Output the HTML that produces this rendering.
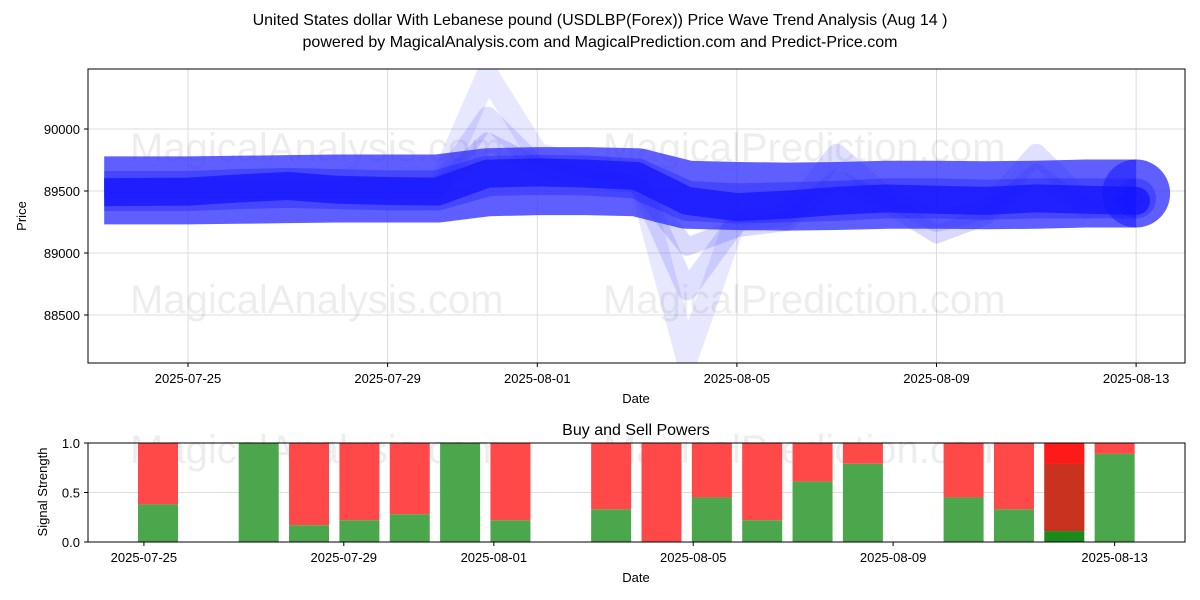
<!DOCTYPE html>
<html><head><meta charset="utf-8">
<style>
html,body{margin:0;padding:0;background:#fff;}
svg{display:block;font-family:"Liberation Sans","DejaVu Sans",sans-serif;}
</style></head>
<body>
<svg id="chart" width="1200" height="600" viewBox="0 0 1200 600" xmlns="http://www.w3.org/2000/svg">
<rect width="1200" height="600" fill="#fff"/>
<text x="600" y="25" text-anchor="middle" font-size="16">United States dollar With Lebanese pound (USDLBP(Forex)) Price Wave Trend Analysis (Aug 14 )</text>
<text x="600" y="47" text-anchor="middle" font-size="16">powered by MagicalAnalysis.com and MagicalPrediction.com and Predict-Price.com</text>
<g id="topPanel"></g>
<g id="botPanel"></g>
</svg>
<script>
// ---- price panel data (days offset from 2025-07-25) ----
const priceDates = [-1.68,0,1,2,3,4,5,6,7,8,9,10,11,12,13,14,15,16,17,18,19];
const bandOuter  = [89505,89505,89510,89515,89520,89520,89520,89570,89580,89580,89570,89470,89460,89455,89460,89470,89470,89465,89470,89480,89480];
const bandMid    = [89500,89500,89515,89525,89515,89505,89505,89620,89630,89625,89600,89420,89400,89410,89420,89440,89440,89430,89440,89440,89440];
const innerLine  = [89490,89495,89520,89540,89510,89500,89495,89640,89650,89640,89620,89420,89370,89390,89420,89440,89430,89420,89440,89430,89420];
const spikeBig   = [89520,89520,89520,89520,89520,89520,89520,90440,89800,89700,89650,88150,89300,89350,89500,89450,89420,89400,89450,89450,89450];
const spikeMed   = [89520,89520,89520,89520,89520,89520,89520,90100,89700,89650,89600,88700,89250,89300,89800,89450,89250,89350,89800,89400,89450];
const spikeSmall = [89520,89520,89520,89520,89520,89520,89520,89900,89700,89600,89550,89050,89200,89250,89600,89400,89150,89300,89650,89350,89420];
const priceTicks = [88500,89000,89500,90000];
const dateTickDays = [0,4,7,11,15,19];
const dateTickLabels = ["2025-07-25","2025-07-29","2025-08-01","2025-08-05","2025-08-09","2025-08-13"];
// ---- signal panel data (days offset from 2025-07-25) ----
const sigDays = [0,2,3,4,5,6,7,9,10,11,12,13,14,16,17,18,19];
const buyPower = [0.38,1.0,0.17,0.22,0.28,1.0,0.22,0.33,0,0.45,0.22,0.61,0.79,0.45,0.33,0.11,0.89];
const midPower = [0,0,0,0,0,0,0,0,0,0,0,0,0,0,0,0.79,0];
const sigTickDays = [-0.28,3.69,6.67,10.63,14.6,19];
const sigTickLabels = ["2025-07-25","2025-07-29","2025-08-01","2025-08-05","2025-08-09","2025-08-13"];
const sigYTicks = [0,0.5,1.0];

const NS="http://www.w3.org/2000/svg";
function mk(tag,attrs,parent,txt){const e=document.createElementNS(NS,tag);for(const k in attrs)e.setAttribute(k,attrs[k]);if(txt!==undefined)e.textContent=txt;parent.appendChild(e);return e;}

const T={x0:88,x1:1185,y0:69,y1:363};
const xT=d=>188+d*49.9;
const yT=v=>191-(v-89500)*62/500;
const topG=document.getElementById('topPanel');
const botG=document.getElementById('botPanel');

function wm(parent,x,y,t){const e=mk('text',{x:x,y:y,'font-size':'40',fill:'#000','fill-opacity':'0.07'},parent,t);

}

priceTicks.forEach(v=>{const l=mk('line',{x1:T.x0,x2:T.x1,y1:yT(v),y2:yT(v),stroke:'#ddd','stroke-width':1},topG);

});
dateTickDays.forEach(d=>{const l=mk('line',{x1:xT(d),x2:xT(d),y1:T.y0,y2:T.y1,stroke:'#ddd','stroke-width':1},topG);

});
wm(topG,130,161,'MagicalAnalysis.com');wm(topG,603,161,'MagicalPrediction.com');
wm(topG,130,313,'MagicalAnalysis.com');wm(topG,603,313,'MagicalPrediction.com');

const clip=mk('clipPath',{id:'clipTop'},topG);mk('rect',{x:T.x0,y:T.y0,width:T.x1-T.x0,height:T.y1-T.y0},clip);
const plot=mk('g',{'clip-path':'url(#clipTop)'},topG);
function series(vals,w,color,op,name){
  let pts=[];for(let i=0;i<vals.length;i++)pts.push(xT(priceDates[i]).toFixed(1)+','+yT(vals[i]).toFixed(1));
  const p=mk('polyline',{points:pts.join(' '),fill:'none',stroke:color,'stroke-width':w,'stroke-opacity':op,'stroke-linejoin':'round','stroke-linecap':'butt'},plot);
  
  
  const n=vals.length-1;
  const c=mk('circle',{cx:xT(priceDates[n]),cy:yT(vals[n]),r:w/2,fill:color,'fill-opacity':op},plot);
  
  
}
series(spikeBig,22,'#6060ff',0.15,'wave-spike-large');
series(spikeMed,20,'#5050ff',0.18,'wave-spike-medium');
series(spikeSmall,18,'#4040ff',0.2,'wave-spike-small');
series(bandOuter,68,'#2a2aff',0.75,'wave-band-outer');
series(bandMid,40,'#1a1aff',0.35,'wave-band-middle');
series(innerLine,28,'#1515ff',0.75,'wave-inner-line');

mk('rect',{x:T.x0,y:T.y0,width:T.x1-T.x0,height:T.y1-T.y0,fill:'none',stroke:'#000','stroke-width':1},topG);
priceTicks.forEach(v=>{mk('line',{x1:T.x0-4,x2:T.x0,y1:yT(v),y2:yT(v),stroke:'#000'},topG);
const t=mk('text',{x:T.x0-8,y:yT(v)+5,'text-anchor':'end','font-size':'13'},topG,String(v));

});
dateTickDays.forEach((d,i)=>{mk('line',{x1:xT(d),x2:xT(d),y1:T.y1,y2:T.y1+4,stroke:'#000'},topG);
const t=mk('text',{x:xT(d),y:T.y1+20,'text-anchor':'middle','font-size':'13'},topG,dateTickLabels[i]);

});
const xl=mk('text',{x:636,y:403,'text-anchor':'middle','font-size':'13'},topG,'Date');


const yl=mk('text',{x:26,y:216,'text-anchor':'middle','font-size':'13',transform:'rotate(-90 26 216)'},topG,'Price');



const B={x0:88,x1:1185,y0:443,y1:542};
const xB=d=>158+d*50.35;
const yB=v=>542-v*99;
const bw=40;
const g=mk('line',{x1:B.x0,x2:B.x1,y1:yB(0.5),y2:yB(0.5),stroke:'#ddd'},botG);


wm(botG,130,463,'MagicalAnalysis.com');wm(botG,603,463,'MagicalPrediction.com');
sigDays.forEach((s,i)=>{
  const x=xB(s)-bw/2;const b=buyPower[i];
  const r=mk('rect',{x:x,y:yB(1),width:bw,height:yB(b)-yB(1),fill:'#ff4848'},botG);
  
  
  if(midPower[i]>0){
    const r3=mk('rect',{x:x,y:yB(1),width:bw,height:yB(midPower[i])-yB(1),fill:'#ff1a1a'},botG);
    
    
    const r4=mk('rect',{x:x,y:yB(midPower[i]),width:bw,height:yB(b)-yB(midPower[i]),fill:'#c8321e'},botG);
    
    
  }
  const r2=mk('rect',{x:x,y:yB(b),width:bw,height:yB(0)-yB(b),fill:midPower[i]>0?'#1a8a1a':'#4ca64c'},botG);
  
  
});
mk('rect',{x:B.x0,y:B.y0,width:B.x1-B.x0,height:B.y1-B.y0,fill:'none',stroke:'#000'},botG);
sigYTicks.forEach(v=>{mk('line',{x1:B.x0-4,x2:B.x0,y1:yB(v),y2:yB(v),stroke:'#000'},botG);
const t=mk('text',{x:B.x0-8,y:yB(v)+5,'text-anchor':'end','font-size':'13'},botG,v.toFixed(1));

});
sigTickDays.forEach((s,i)=>{mk('line',{x1:xB(s),x2:xB(s),y1:B.y1,y2:B.y1+4,stroke:'#000'},botG);
const t=mk('text',{x:xB(s),y:B.y1+20,'text-anchor':'middle','font-size':'13'},botG,sigTickLabels[i]);

});
const bt=mk('text',{x:636,y:435,'text-anchor':'middle','font-size':'16'},botG,'Buy and Sell Powers');


const bx=mk('text',{x:636,y:582,'text-anchor':'middle','font-size':'13'},botG,'Date');


const by=mk('text',{x:47,y:492,'text-anchor':'middle','font-size':'13',transform:'rotate(-90 47 492)'},botG,'Signal Strength');


</script>
</body></html>
